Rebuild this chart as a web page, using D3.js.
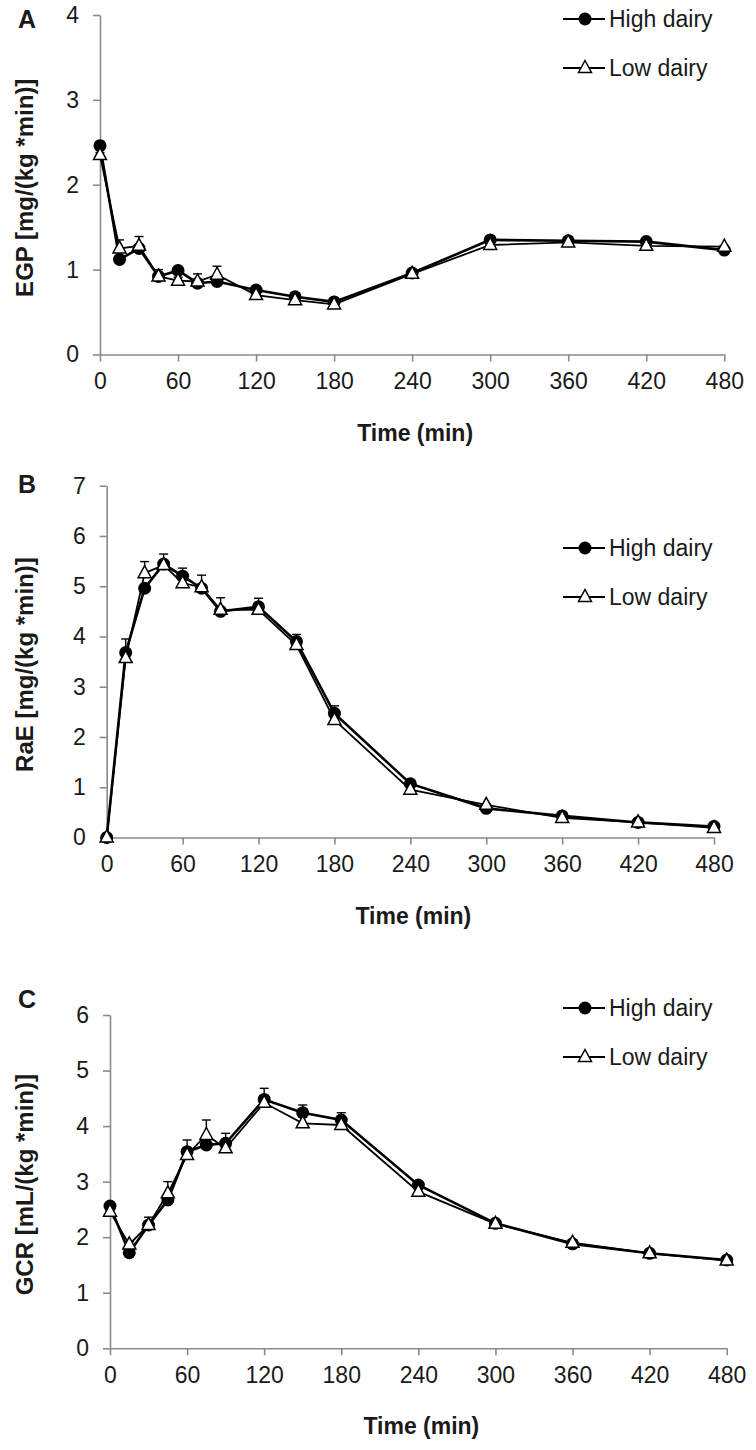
<!DOCTYPE html>
<html>
<head>
<meta charset="utf-8">
<script src="https://cdn.jsdelivr.net/npm/d3@7"></script>
<style>
  html, body { margin: 0; padding: 0; background: #fff; }
  svg { display: block; font-family: "Liberation Sans", Arial, sans-serif; }
</style>
</head>
<body>
<svg id="chart" width="756" height="1450"></svg>
<script>
// ---------- data ----------
const times = [0, 15, 30, 45, 60, 75, 90, 120, 150, 180, 240, 300, 360, 420, 480];
const xTicks = [0, 60, 120, 180, 240, 300, 360, 420, 480];
const seriesNames = ["High dairy", "Low dairy"];

// Panel A: EGP
const egpHigh    = [2.46, 1.12, 1.25, 0.92, 0.99, 0.84, 0.86, 0.76, 0.68, 0.62, 0.96, 1.35, 1.34, 1.33, 1.23];
const egpLow     = [2.35, 1.25, 1.28, 0.92, 0.87, 0.86, 0.94, 0.70, 0.64, 0.59, 0.95, 1.29, 1.32, 1.28, 1.27];
const egpHighErr = [0, 0, 0, 0, 0.04, 0, 0, 0.03, 0.03, 0.03, 0.03, 0.03, 0.03, 0.03, 0.03];
const egpLowErr  = [0.03, 0.10, 0.11, 0.08, 0.04, 0.09, 0.10, 0, 0, 0, 0, 0, 0, 0, 0];
const egpTicks   = [0, 1, 2, 3, 4];

// Panel B: RaE
const raeHigh    = [0.00, 3.68, 4.96, 5.44, 5.20, 4.96, 4.50, 4.59, 3.90, 2.47, 1.07, 0.58, 0.43, 0.30, 0.22];
const raeLow     = [0.00, 3.57, 5.26, 5.42, 5.06, 4.98, 4.53, 4.53, 3.83, 2.34, 0.95, 0.65, 0.39, 0.30, 0.19];
const raeHighErr = [0, 0.27, 0, 0.20, 0.16, 0, 0, 0.17, 0.14, 0.15, 0.04, 0.03, 0.03, 0.03, 0.03];
const raeLowErr  = [0, 0, 0.23, 0, 0, 0.24, 0.24, 0, 0, 0, 0, 0, 0, 0, 0];
const raeTicks   = [0, 1, 2, 3, 4, 5, 6, 7];

// Panel C: GCR
const gcrHigh    = [2.56, 1.72, 2.22, 2.67, 3.54, 3.66, 3.69, 4.48, 4.24, 4.11, 2.94, 2.25, 1.88, 1.71, 1.59];
const gcrLow     = [2.46, 1.87, 2.22, 2.79, 3.48, 3.84, 3.60, 4.42, 4.05, 4.02, 2.82, 2.24, 1.90, 1.71, 1.58];
const gcrHighErr = [0.04, 0, 0.14, 0, 0.21, 0, 0.18, 0.20, 0.14, 0.13, 0.05, 0.04, 0.04, 0.03, 0.03];
const gcrLowErr  = [0, 0.05, 0, 0.21, 0, 0.27, 0, 0, 0, 0, 0, 0, 0, 0, 0];
const gcrTicks   = [0, 1, 2, 3, 4, 5, 6];

// ---------- layout ----------
const panels = [
  { letter: "A", title: "EGP [mg/(kg *min)]", high: egpHigh, low: egpLow, highErr: egpHighErr, lowErr: egpLowErr,
    ticks: egpTicks, x0: 100, x1: 724.3, yTop: 15, yBot: 354.5, letterY: 28, legY: 19 },
  { letter: "B", title: "RaE [mg/(kg *min)]", high: raeHigh, low: raeLow, highErr: raeHighErr, lowErr: raeLowErr,
    ticks: raeTicks, x0: 106.7, x1: 714, yTop: 485.7, yBot: 837.5, letterY: 493, legY: 548 },
  { letter: "C", title: "GCR [mL/(kg *min)]", high: gcrHigh, low: gcrLow, highErr: gcrHighErr, lowErr: gcrLowErr,
    ticks: gcrTicks, x0: 110, x1: 726.7, yTop: 1015, yBot: 1348.3, letterY: 1008, legY: 1008 }
];

const svg = d3.select("#chart");
const axisColor = "#8a8a8a";
const textColor = "#1a1a1a";
const triPath = "M0,-7.5L6.5,4.5L-6.5,4.5Z";

panels.forEach(p => {
  const ticks = p.ticks;
  const x = d3.scaleLinear().domain([0, 480]).range([p.x0, p.x1]);
  const y = d3.scaleLinear().domain([0, ticks[ticks.length - 1]]).range([p.yBot, p.yTop]);
  const g = svg.append("g");

  // axes
  const yAxis = g.append("g").attr("transform", `translate(${p.x0},0)`)
    .call(d3.axisLeft(y).tickValues(ticks).tickSize(7).tickSizeOuter(0).tickPadding(14).tickFormat(d3.format("d")));
  const xAxis = g.append("g").attr("transform", `translate(0,${p.yBot})`)
    .call(d3.axisBottom(x).tickValues(xTicks).tickSize(7).tickSizeOuter(0).tickPadding(11).tickFormat(d3.format("d")));
  [yAxis, xAxis].forEach(a => {
    a.select(".domain").attr("stroke", axisColor).attr("stroke-width", 1.6);
    a.selectAll(".tick line").attr("stroke", axisColor).attr("stroke-width", 1.6);
    a.selectAll(".tick text").attr("fill", textColor).style("font-size", "23px")
      .style("font-family", "'Liberation Sans', Arial, sans-serif");
  });

  // axis titles
  g.append("text")
    .attr("transform", `translate(33,${(p.yTop + p.yBot) / 2 + 3}) rotate(-90)`)
    .attr("text-anchor", "middle").attr("fill", textColor)
    .style("font-size", "24px").style("font-weight", "bold")
    .text(p.title);
  g.append("text")
    .attr("x", (p.x0 + p.x1) / 2 + 3).attr("y", p.yBot + 86)
    .attr("text-anchor", "middle").attr("fill", textColor)
    .style("font-size", "23px").style("font-weight", "bold")
    .text("Time (min)");

  // panel letter
  g.append("text").attr("x", 18).attr("y", p.letterY).attr("fill", textColor)
    .style("font-size", "25px").style("font-weight", "bold").text(p.letter);

  const hi = times.map((t, i) => ({ t, v: p.high[i], e: p.highErr[i] }));
  const lo = times.map((t, i) => ({ t, v: p.low[i], e: p.lowErr[i] }));

  // error bars (upper)
  [hi, lo].forEach(s => {
    const eb = g.append("g").selectAll("g").data(s.filter(d => d.e > 0)).join("g");
    eb.append("line").attr("x1", d => x(d.t)).attr("x2", d => x(d.t))
      .attr("y1", d => y(d.v)).attr("y2", d => y(d.v + d.e))
      .attr("stroke", "#000").attr("stroke-width", 1.4);
    eb.append("line").attr("x1", d => x(d.t) - 4.5).attr("x2", d => x(d.t) + 4.5)
      .attr("y1", d => y(d.v + d.e)).attr("y2", d => y(d.v + d.e))
      .attr("stroke", "#000").attr("stroke-width", 1.4);
  });

  const line = d3.line().x(d => x(d.t)).y(d => y(d.v));
  g.append("path").datum(hi).attr("d", line).attr("fill", "none").attr("stroke", "#000").attr("stroke-width", 2.6);
  g.append("path").datum(lo).attr("d", line).attr("fill", "none").attr("stroke", "#000").attr("stroke-width", 1.8);

  g.append("g").selectAll("circle").data(hi).join("circle")
    .attr("cx", d => x(d.t)).attr("cy", d => y(d.v)).attr("r", 6.5).attr("fill", "#000");
  g.append("g").selectAll("path").data(lo).join("path")
    .attr("transform", d => `translate(${x(d.t)},${y(d.v)})`).attr("d", triPath)
    .attr("fill", "#fff").attr("stroke", "#000").attr("stroke-width", 1.5);

  // legend
  const leg = g.append("g");
  seriesNames.forEach((name, i) => {
    const ly = p.legY + i * 49;
    leg.append("line").attr("x1", 563).attr("x2", 605).attr("y1", ly).attr("y2", ly)
      .attr("stroke", "#000").attr("stroke-width", 1.8);
    if (i === 0) {
      leg.append("circle").attr("cx", 585).attr("cy", ly).attr("r", 6.5).attr("fill", "#000");
    } else {
      leg.append("path").attr("transform", `translate(585,${ly})`).attr("d", triPath)
        .attr("fill", "#fff").attr("stroke", "#000").attr("stroke-width", 1.5);
    }
    leg.append("text").attr("x", 609).attr("y", ly).attr("dy", "0.35em").attr("fill", textColor)
      .style("font-size", "23px").text(name);
  });
});
</script>
</body>
</html>
